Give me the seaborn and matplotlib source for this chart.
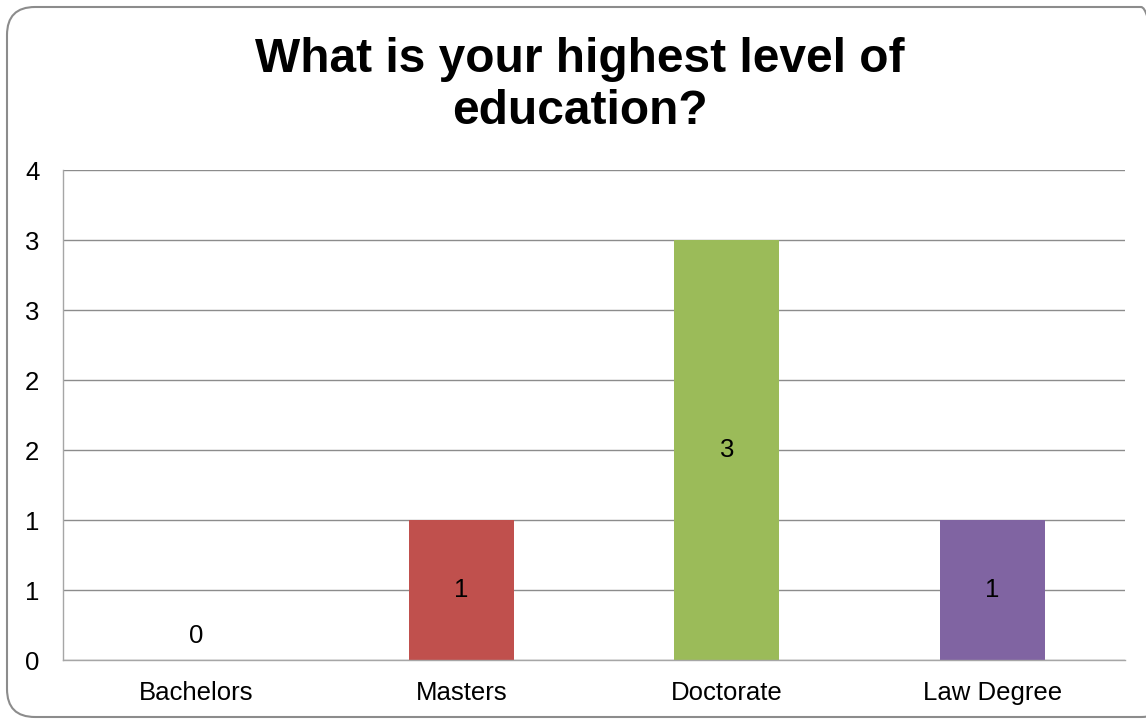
import matplotlib
matplotlib.use("Agg")
import matplotlib.pyplot as plt
from matplotlib.patches import FancyBboxPatch
import seaborn as sns
import pandas as pd

# chart data
categories = ["Bachelors", "Masters", "Doctorate", "Law Degree"]
counts = [0, 1, 3, 1]
bar_colors = ["#4F81BD", "#C0504D", "#9BBB59", "#8064A2"]
y_ticks = [0, 0.5, 1, 1.5, 2, 2.5, 3, 3.5]
y_tick_labels = ["0", "1", "1", "2", "2", "3", "3", "4"]
title = "What is your highest level of\neducation?"

df = pd.DataFrame({"level": categories, "count": counts})

sns.set_style("white")
plt.rcParams["font.family"] = ["Liberation Sans", "DejaVu Sans"]

fig = plt.figure(figsize=(11.46, 7.21), dpi=100)
W, H = 1146, 721

# rounded chart border (Excel style), in inches; right side runs off the canvas
border = FancyBboxPatch((0.07, 0.04), 11.62, 7.10,
                        boxstyle="round,pad=0,rounding_size=0.28",
                        transform=fig.dpi_scale_trans, fill=False,
                        edgecolor="#8c8c8c", linewidth=1.5, zorder=0)
fig.patches.append(border)

ax = fig.add_axes([63 / W, 1 - 660 / H, (1125 - 63) / W, (660 - 170) / H])

sns.barplot(data=df, x="level", y="count", hue="level", palette=bar_colors,
            width=0.395, legend=False, ax=ax, saturation=1, linewidth=0,
            zorder=2)

ax.set_ylim(0, 3.5)
ax.set_yticks(y_ticks)
ax.set_yticklabels(y_tick_labels)
ax.yaxis.grid(True, color="#8c8c8c", linewidth=1)
ax.set_axisbelow(True)
ax.tick_params(axis="both", length=0, labelsize=18.5, colors="black")
ax.tick_params(axis="y", pad=17)
ax.tick_params(axis="x", pad=15)
ax.set_xlabel("")
ax.set_ylabel("")

for side in ["top", "right"]:
    ax.spines[side].set_visible(False)
for side in ["left", "bottom"]:
    ax.spines[side].set_color("#a6a6a6")
    ax.spines[side].set_linewidth(1)

# data labels
for i, v in enumerate(counts):
    y = v / 2 if v > 0 else 0.17
    ax.text(i, y, str(v), ha="center", va="center", fontsize=18.5, color="black")

fig.text(580 / W, 1 - 86 / H, title, ha="center", va="center", color="black",
         fontsize=34.5, fontweight="bold", linespacing=1.2)

fig.savefig("out.png", dpi=100)
